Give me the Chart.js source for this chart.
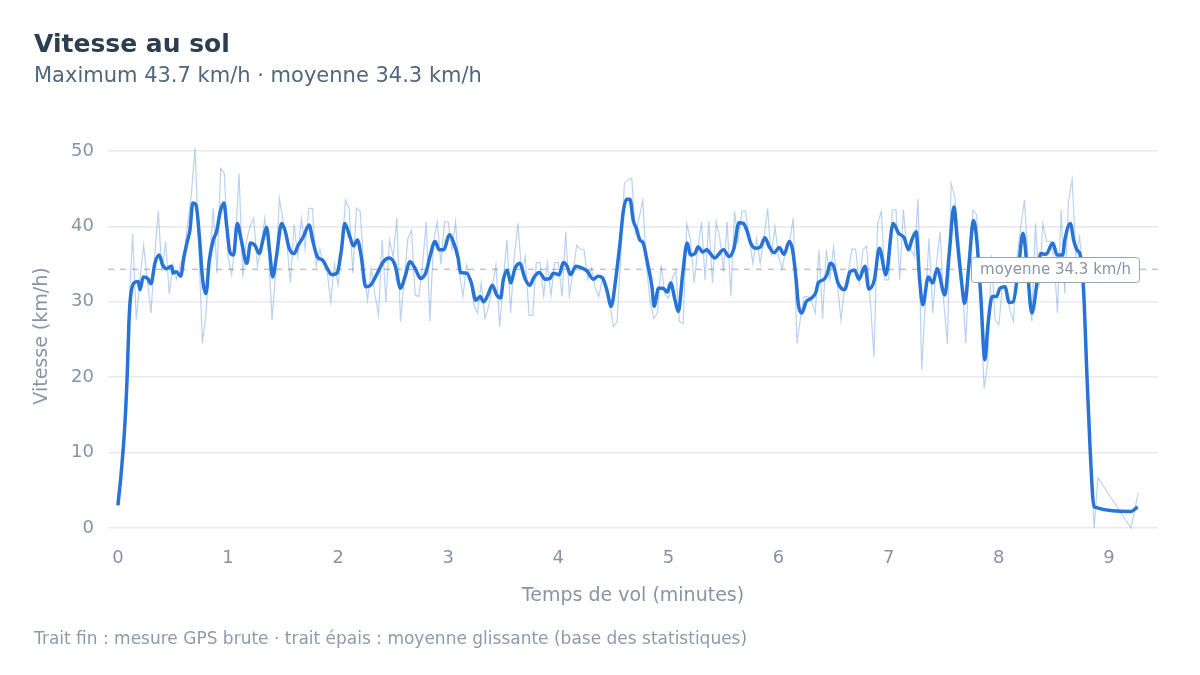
<!DOCTYPE html>
<html lang="fr">
<head>
<meta charset="utf-8">
<title>Vitesse au sol</title>
<script src="https://cdn.jsdelivr.net/npm/chart.js@4.4.1/dist/chart.umd.min.js"></script>
<style>
  html, body { margin: 0; padding: 0; background: #ffffff; }
  body { width: 1200px; height: 675px; position: relative; overflow: hidden;
         font-family: "DejaVu Sans", "Liberation Sans", Arial, sans-serif; }
  #wrap { position: absolute; left: 0; top: 0; width: 1200px; height: 675px; }
  .txt { position: absolute; left: 34px; white-space: nowrap; }
  #title { top: 29px; font-size: 25px; line-height: 30px; font-weight: bold; color: #2c3e50; }
  #subtitle { top: 63px; font-size: 21px; line-height: 25px; color: #52677c; }
  #footer { top: 628px; font-size: 17px; line-height: 20px; color: #8e9aab; }
</style>
</head>
<body>
<div id="wrap"><canvas id="speed-chart" width="1200" height="675"></canvas></div>
<div class="txt" id="title">Vitesse au sol</div>
<div class="txt" id="subtitle">Maximum 43.7 km/h · moyenne 34.3 km/h</div>
<div class="txt" id="footer">Trait fin : mesure GPS brute · trait épais : moyenne glissante (base des statistiques)</div>
<script>
// mesure GPS brute, un point toutes les 2 secondes (km/h)
const rawStepMin = 2 / 60;
const rawSpeed = [
  3, 8, 15, 29, 39, 27.6, 33, 37.5, 33, 28.5,
  36, 42, 34, 38, 31, 35, 33, 35, 36, 40.4,
  44.2, 50.4, 38, 24.5, 28.5, 36, 42.4, 33.8, 47.7, 47,
  36, 33.6, 38, 47, 33.3, 38, 40, 41.1, 34.7, 37,
  41.1, 37, 27.6, 34, 43.7, 40.8, 38, 32.5, 40.2, 36,
  41.1, 37, 42.4, 42.4, 34.7, 37, 35.1, 34, 30, 35,
  32.2, 37, 43.5, 42.4, 33.8, 42.4, 42, 34.7, 30.2, 34.4,
  31, 28.2, 38.2, 30, 38.2, 36, 41.1, 27.4, 33, 38.4,
  39.5, 30.9, 30.7, 35, 40.6, 27.4, 38, 40.6, 35, 40.6,
  40.6, 37, 40.6, 34, 30.7, 34.9, 33, 29.6, 28.5, 32.5,
  27.8, 29.4, 32, 34.9, 26.7, 33, 38.2, 28.5, 36, 40.4,
  34, 36, 28.2, 28.2, 35.2, 35.2, 30.8, 35.2, 30.8, 35.2,
  35.2, 30.7, 39.3, 30.8, 34, 37.5, 37, 36.9, 33, 34.5,
  32, 30.7, 33, 32, 30, 26.7, 27.4, 36, 45.7, 46.2,
  46.4, 39.1, 41.1, 43.5, 34.7, 30, 27.8, 28.5, 34.9, 31,
  30.5, 33, 34.2, 27.4, 27.1, 40.4, 38.2, 32.5, 37, 40.6,
  32.9, 40.6, 32.5, 40.6, 38.4, 34, 40.6, 30.7, 42, 38,
  42, 42, 38.5, 35.1, 38.4, 35.1, 38.4, 42.4, 36, 40,
  36, 34.4, 37, 38, 41.1, 24.5, 28, 30.7, 30.7, 30,
  28.5, 36.9, 27.8, 36.9, 33, 37.3, 32.5, 27.6, 32, 34,
  37, 37, 32.5, 36.9, 37.4, 30, 22.7, 40.4, 42, 32.9,
  32.9, 42.2, 42.2, 32.9, 42.2, 36.9, 37, 36, 43.7, 21,
  30, 38.4, 28.5, 35, 39.3, 30, 24.4, 45.7, 44, 39,
  33, 24.5, 36, 42.2, 41.5, 30, 18.5, 22, 36.2, 27.6,
  26.9, 32, 32, 28.9, 27.4, 36, 40, 43.5, 35, 27.4,
  40.4, 32, 40.4, 38, 38, 36, 28.5, 42.2, 31.1, 43.4,
  46.2, 36, 38.6, 34, 20, 9, 0
];
// fin de vol : points GPS espacés
const rawTailTime = [8.9, 9.2, 9.267];
const rawTailSpeed = [6.7, 0, 4.7];

// moyenne glissante (minutes, km/h)
const smoothTime = [
  0, 0.03, 0.064, 0.085, 0.1, 0.115, 0.145, 0.185, 0.2, 0.23,
  0.27, 0.3, 0.336, 0.375, 0.406, 0.44, 0.487, 0.5, 0.53, 0.57,
  0.6, 0.63, 0.654, 0.68, 0.71, 0.74, 0.77, 0.8, 0.83, 0.866,
  0.896, 0.93, 0.963, 0.987, 1.017, 1.05, 1.084, 1.12, 1.17, 1.205,
  1.244, 1.283, 1.32, 1.35, 1.38, 1.405, 1.44, 1.487, 1.517, 1.556,
  1.6, 1.637, 1.683, 1.737, 1.768, 1.81, 1.86, 1.91, 1.94, 1.99,
  2.03, 2.06, 2.107, 2.14, 2.175, 2.21, 2.25, 2.295, 2.35, 2.41,
  2.464, 2.516, 2.567, 2.607, 2.652, 2.7, 2.75, 2.8, 2.834, 2.88,
  2.918, 2.96, 3.01, 3.045, 3.09, 3.11, 3.167, 3.21, 3.25, 3.29,
  3.32, 3.36, 3.4, 3.44, 3.476, 3.5, 3.536, 3.567, 3.606, 3.65,
  3.697, 3.74, 3.78, 3.827, 3.88, 3.924, 3.954, 4.008, 4.045, 4.08,
  4.11, 4.16, 4.21, 4.26, 4.317, 4.36, 4.4, 4.44, 4.48, 4.52,
  4.56, 4.59, 4.62, 4.65, 4.68, 4.71, 4.74, 4.77, 4.81, 4.85,
  4.87, 4.91, 4.95, 4.99, 5.02, 5.06, 5.09, 5.13, 5.17, 5.2,
  5.24, 5.27, 5.31, 5.35, 5.38, 5.42, 5.45, 5.5, 5.55, 5.595,
  5.64, 5.68, 5.716, 5.746, 5.795, 5.837, 5.876, 5.915, 5.96, 6.006,
  6.05, 6.097, 6.127, 6.16, 6.18, 6.21, 6.25, 6.3, 6.34, 6.36,
  6.405, 6.44, 6.47, 6.5, 6.54, 6.6, 6.65, 6.69, 6.73, 6.785,
  6.82, 6.87, 6.915, 6.975, 7.04, 7.09, 7.14, 7.18, 7.21, 7.25,
  7.28, 7.31, 7.36, 7.4, 7.44, 7.51, 7.55, 7.593, 7.62, 7.66,
  7.69, 7.73, 7.77, 7.8, 7.835, 7.874, 7.9, 7.94, 7.98, 8.01,
  8.056, 8.095, 8.13, 8.18, 8.22, 8.26, 8.3, 8.35, 8.38, 8.43,
  8.49, 8.53, 8.58, 8.6, 8.65, 8.68, 8.71, 8.74, 8.77, 8.8,
  8.83, 8.865, 9.2, 9.26
];
const smoothSpeed = [
  3, 7.3, 13.9, 20.5, 27.2, 30.7, 32.5, 32.7, 31.6, 33.3,
  33.1, 32.4, 35.1, 36.2, 34.9, 34.4, 34.7, 33.8, 34, 33.4,
  36, 38, 39.5, 43.1, 42.8, 38.6, 32.9, 31.1, 35.5, 38.2,
  39.3, 42, 43.1, 40.2, 36.6, 36.2, 40.4, 38.2, 35.1, 37.8,
  37.5, 36.4, 38.4, 39.9, 36.4, 33.3, 36, 40.4, 39.5, 37.1,
  36.4, 37.5, 38.6, 40.2, 38.2, 36, 35.5, 34.2, 33.6, 33.8,
  36.9, 40.4, 38.6, 37.4, 38.2, 36, 32, 32.2, 33.6, 35.3,
  35.8, 34.9, 31.8, 33.3, 35.3, 34.4, 33.1, 34, 36, 38,
  36.9, 36.9, 38.9, 38, 35.8, 33.9, 33.8, 32.5, 30.2, 30.7,
  30, 30.9, 32.2, 30.9, 30.5, 32.9, 34.2, 32.5, 34.4, 35.1,
  33.1, 32.2, 33.3, 33.9, 33, 33.1, 33.8, 33.6, 35.2, 34.7,
  33.6, 34.7, 34.5, 34.1, 33, 33.4, 33.2, 31.6, 29.4, 32.9,
  37.8, 42, 43.6, 43.6, 40.8, 39.7, 38.2, 37.8, 35.1, 32,
  29.4, 31.8, 31.8, 31.3, 32.5, 30.2, 28.7, 33.8, 37.8, 36.2,
  36.4, 37.3, 36.6, 36.9, 36.4, 35.8, 36.2, 36.9, 36, 37.1,
  40.5, 40.4, 39.3, 37.8, 37.1, 37.3, 38.5, 37.3, 36.5, 37.2,
  36.3, 38, 36.9, 32.9, 29.6, 28.5, 30, 30.5, 31.3, 32.5,
  32.9, 33.6, 35.1, 34.7, 32.5, 31.6, 34, 34.2, 33, 34.7,
  31.7, 32.9, 37.1, 33.6, 40.4, 39.1, 38.5, 36.9, 38.2, 39.3,
  33.1, 29.6, 33.3, 32.5, 34.4, 30.9, 36.4, 42.6, 38.6, 32.9,
  29.8, 35.1, 40.8, 38.2, 31.1, 22.3, 26.7, 30.7, 30.7, 31.8,
  32, 29.9, 30, 34.7, 39.1, 34.2, 28.5, 32.9, 36.4, 36.3,
  37.8, 36.2, 36.2, 38.2, 40.4, 38.2, 36.9, 36.2, 31.6, 20.5,
  10.3, 2.8, 2.2, 2.8
];

const meanSpeed = 34.3;
const yTicks = [0, 10, 20, 30, 40, 50];
const xTicks = [0, 1, 2, 3, 4, 5, 6, 7, 8, 9];

const rawPoints = rawSpeed.map((v, i) => ({ x: i * rawStepMin, y: v }))
  .concat(rawTailTime.map((t, i) => ({ x: t, y: rawTailSpeed[i] })));
const smoothPoints = smoothTime.map((t, i) => ({ x: t, y: smoothSpeed[i] }));

const fontFamily = '"DejaVu Sans", "Liberation Sans", Arial, sans-serif';
const tickColor = "#8794a5";
const gridColor = "#e6e9ee";

// ligne de moyenne en pointillé + étiquette
const meanLine = {
  id: "meanLine",
  beforeDatasetsDraw(chart) {
    const { ctx, chartArea, scales } = chart;
    const y = scales.y.getPixelForValue(meanSpeed);
    ctx.save();
    ctx.strokeStyle = "#c3c3c3";
    ctx.lineWidth = 1.5;
    ctx.setLineDash([6, 6]);
    ctx.beginPath();
    ctx.moveTo(chartArea.left, y);
    ctx.lineTo(chartArea.right, y);
    ctx.stroke();
    ctx.restore();
  },
  afterDatasetsDraw(chart) {
    const { ctx, chartArea, scales } = chart;
    const y = scales.y.getPixelForValue(meanSpeed);
    const label = "moyenne " + meanSpeed.toFixed(1) + " km/h";
    ctx.save();
    ctx.font = "15px " + fontFamily;
    const w = ctx.measureText(label).width + 17;
    const h = 25;
    const x = chartArea.right - 19 - w;
    ctx.fillStyle = "#ffffff";
    ctx.strokeStyle = "#9aa5b3";
    ctx.lineWidth = 1;
    ctx.beginPath();
    ctx.roundRect(Math.round(x) + 0.5, Math.round(y - h / 2) + 0.5, w, h, 3);
    ctx.fill();
    ctx.stroke();
    ctx.fillStyle = tickColor;
    ctx.textBaseline = "middle";
    ctx.fillText(label, x + 9, y + 1);
    ctx.restore();
  }
};

new Chart(document.getElementById("speed-chart"), {
  type: "line",
  data: {
    datasets: [
      {
        label: "moyenne glissante",
        data: smoothPoints,
        borderColor: "#2874d6",
        borderWidth: 3.5,
        pointRadius: 0,
        cubicInterpolationMode: "monotone",
        order: 0
      },
      {
        label: "mesure GPS brute",
        data: rawPoints,
        borderColor: "rgba(40, 116, 214, 0.32)",
        borderWidth: 1.2,
        pointRadius: 0,
        tension: 0,
        order: 1
      }
    ]
  },
  options: {
    responsive: false,
    animation: false,
    events: [],
    layout: { padding: { left: 0, right: 42, top: 140, bottom: 60 } },
    plugins: {
      legend: { display: false },
      tooltip: { enabled: false }
    },
    scales: {
      x: {
        type: "linear",
        min: -0.09,
        max: 9.446,
        afterBuildTicks: (scale) => { scale.ticks = xTicks.map((v) => ({ value: v })); },
        afterFit: (scale) => { scale.height = 83; },
        grid: { display: false },
        border: { display: false },
        ticks: {
          color: tickColor,
          font: { family: fontFamily, size: 18 },
          padding: 8,
          maxRotation: 0
        },
        title: {
          display: true,
          text: "Temps de vol (minutes)",
          color: tickColor,
          font: { family: fontFamily, size: 19 },
          padding: { top: 0, bottom: 8 }
        }
      },
      y: {
        min: -0.53,
        max: 51.46,
        afterBuildTicks: (scale) => { scale.ticks = yTicks.map((v) => ({ value: v })); },
        afterFit: (scale) => { scale.width = 108; },
        grid: { color: gridColor, lineWidth: 1.5, drawTicks: false },
        border: { display: false },
        ticks: {
          color: tickColor,
          font: { family: fontFamily, size: 18 },
          padding: 14
        },
        title: {
          display: true,
          text: "Vitesse (km/h)",
          color: tickColor,
          font: { family: fontFamily, size: 19 },
          padding: { top: 31, bottom: 0 }
        }
      }
    }
  },
  plugins: [meanLine]
});
</script>
</body>
</html>
